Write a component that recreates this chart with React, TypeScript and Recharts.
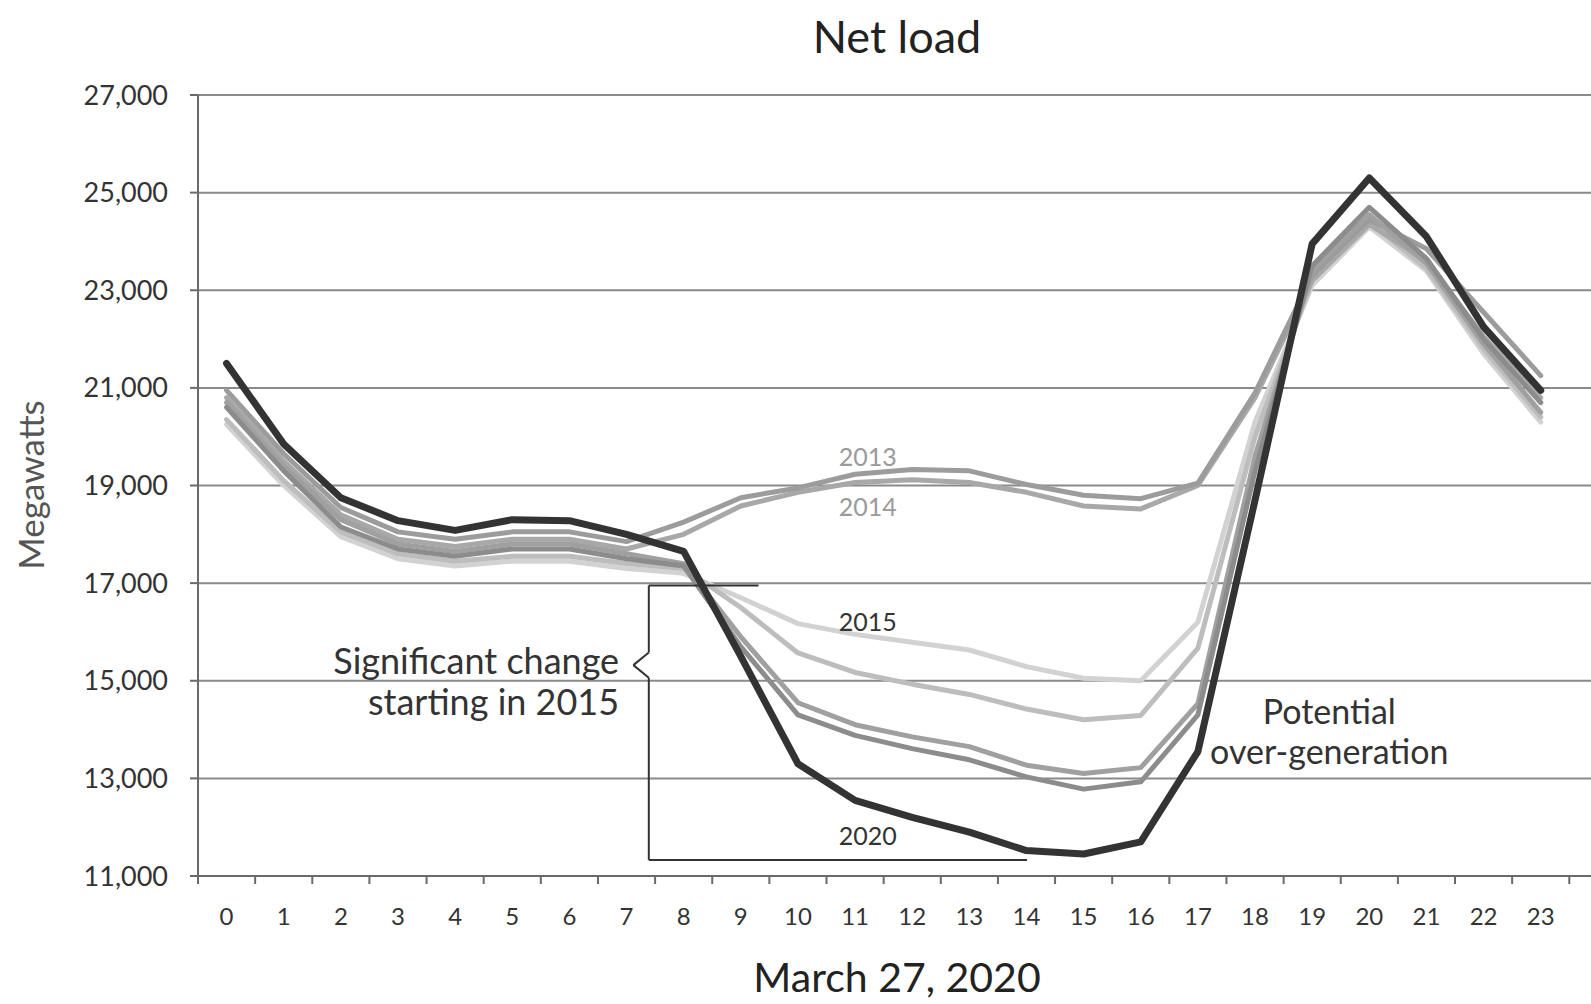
import React from "react";
import {
  CartesianGrid,
  LineChart,
  Line,
  ReferenceDot,
  ReferenceLine,
  XAxis,
  YAxis,
} from "recharts";

const HOURS = [0, 1, 2, 3, 4, 5, 6, 7, 8, 9, 10, 11, 12, 13, 14, 15, 16, 17, 18, 19, 20, 21, 22, 23];
const Y_TICKS = [11000, 13000, 15000, 17000, 19000, 21000, 23000, 25000, 27000];

// net load in MW
const NL_2013 = [20950, 19650, 18550, 18050, 17900, 18050, 18050, 17850, 18250, 18750, 18950, 19230, 19330, 19300, 19020, 18800, 18730, 19050, 20900, 23300, 24450, 23850, 22550, 21250];
const NL_2014 = [20800, 19500, 18400, 17900, 17750, 17900, 17900, 17700, 18000, 18580, 18860, 19060, 19120, 19060, 18860, 18580, 18520, 19000, 20800, 23200, 24350, 23600, 22050, 20800];
const NL_2015 = [20250, 19000, 17950, 17500, 17350, 17450, 17450, 17300, 17200, 16700, 16170, 15950, 15790, 15630, 15290, 15050, 15000, 16200, 20300, 23100, 24300, 23400, 21700, 20300];
const NL_2016 = [20350, 19100, 18050, 17600, 17450, 17550, 17550, 17400, 17300, 16500, 15570, 15170, 14930, 14720, 14420, 14200, 14290, 15670, 20000, 23200, 24400, 23450, 21800, 20400];
const NL_2017 = [20700, 19400, 18300, 17800, 17650, 17800, 17800, 17600, 17400, 15900, 14550, 14100, 13850, 13650, 13270, 13100, 13220, 14530, 19600, 23400, 24550, 23550, 21900, 20500];
const NL_2018 = [20600, 19300, 18150, 17700, 17550, 17700, 17700, 17500, 17350, 15700, 14300, 13880, 13610, 13380, 13030, 12780, 12930, 14300, 19300, 23500, 24700, 23650, 22000, 20700];
const NL_2020 = [21500, 19850, 18750, 18280, 18080, 18300, 18280, 18000, 17650, 15500, 13300, 12550, 12200, 11900, 11520, 11450, 11700, 13550, 18700, 23950, 25300, 24100, 22250, 20950];

const SERIES = [
  { key: "y2015", values: NL_2015, color: "#d2d2d2", width: 5 },
  { key: "y2016", values: NL_2016, color: "#bdbdbd", width: 5 },
  { key: "y2014", values: NL_2014, color: "#a8a8a8", width: 5 },
  { key: "y2013", values: NL_2013, color: "#9c9c9c", width: 5 },
  { key: "y2017", values: NL_2017, color: "#a0a0a0", width: 5 },
  { key: "y2018", values: NL_2018, color: "#8c8c8c", width: 5 },
  { key: "y2020", values: NL_2020, color: "#333333", width: 7 },
];

// bracket around the "significant change" area, in hour / MW
const BRACKET = [
  { hour: 9.31, mw: 16950 },
  { hour: 7.39, mw: 16950 },
  { hour: 7.39, mw: 15580 },
  { hour: 7.12, mw: 15320 },
  { hour: 7.39, mw: 15060 },
  { hour: 7.39, mw: 11330 },
  { hour: 14.01, mw: 11330 },
];

const NOTES = [
  { hour: 11.22, mw: 19600, text: "2013", color: "#9a9a9a", size: 25, anchor: "middle" },
  { hour: 11.22, mw: 18580, text: "2014", color: "#9a9a9a", size: 25, anchor: "middle" },
  { hour: 11.22, mw: 16230, text: "2015", color: "#333", size: 25, anchor: "middle" },
  { hour: 11.22, mw: 11850, text: "2020", color: "#333", size: 25, anchor: "middle" },
  { hour: 6.87, mw: 15420, text: "Significant change", color: "#333", size: 36, anchor: "end" },
  { hour: 6.87, mw: 14580, text: "starting in 2015", color: "#333", size: 36, anchor: "end" },
  { hour: 19.3, mw: 14400, text: "Potential", color: "#333", size: 34, anchor: "middle" },
  { hour: 19.3, mw: 13580, text: "over-generation", color: "#333", size: 34, anchor: "middle" },
];

const data = HOURS.map((h, i) => {
  const row: Record<string, number> = { hour: h };
  SERIES.forEach((s) => (row[s.key] = s.values[i]));
  return row;
});

const W = 1591;
const H = 1004;
const MARGIN = { top: 95, right: 0, bottom: 68, left: 0 };
const Y_AXIS_W = 198;
const X_DOMAIN: [number, number] = [-0.5, 23.88];
const PLOT_W = W - MARGIN.left - MARGIN.right - Y_AXIS_W;
const HALF_STEP = PLOT_W / (X_DOMAIN[1] - X_DOMAIN[0]) / 2;
const FONT = "Lato, 'Open Sans', sans-serif";
const AXIS = "#6a6a6a";

function HourTick(props: any) {
  const { x, y, payload, index } = props;
  const last = index === HOURS.length - 1;
  return (
    <g>
      <line x1={x - HALF_STEP} x2={x - HALF_STEP} y1={y} y2={y + 8} stroke={AXIS} strokeWidth={2} />
      {last && <line x1={x + HALF_STEP} x2={x + HALF_STEP} y1={y} y2={y + 8} stroke={AXIS} strokeWidth={2} />}
      <text x={x} y={y + 49} textAnchor="middle" fontSize={24} fill="#333" fontFamily={FONT}>
        {payload.value}
      </text>
    </g>
  );
}

const centered = (left: number, top: number): React.CSSProperties => ({
  position: "absolute",
  left,
  top,
  transform: "translate(-50%, -50%)",
  whiteSpace: "nowrap",
  lineHeight: 1.1,
});

export default function App() {
  return (
    <div style={{ position: "absolute", left: 0, top: 0, width: W, height: H, background: "#fff", fontFamily: FONT, overflow: "hidden" }}>
      <div style={{ ...centered(897, 37), fontSize: 45, color: "#222" }}>Net load</div>
      <div style={{ ...centered(897, 977), fontSize: 41, color: "#222" }}>March 27, 2020</div>
      <div style={{ ...centered(30, 485), transform: "translate(-50%, -50%) rotate(-90deg)", fontSize: 35, color: "#555" }}>
        Megawatts
      </div>
      <LineChart width={W} height={H} data={data} margin={MARGIN} style={{ position: "absolute", left: 0, top: 0 }}>
        <CartesianGrid vertical={false} stroke="#8a8a8a" strokeWidth={2} />
        <XAxis
          type="number"
          dataKey="hour"
          domain={X_DOMAIN}
          ticks={HOURS}
          interval={0}
          height={60}
          tickSize={0}
          tickMargin={0}
          tickLine={false}
          tick={<HourTick />}
          axisLine={{ stroke: AXIS, strokeWidth: 2 }}
          allowDataOverflow
        />
        <YAxis
          type="number"
          domain={[11000, 27000]}
          ticks={Y_TICKS}
          interval={0}
          width={Y_AXIS_W}
          tickSize={8}
          tickMargin={22}
          tickFormatter={(v: number) => v.toLocaleString("en-US")}
          tick={{ fontSize: 27, fill: "#333", fontFamily: FONT }}
          tickLine={{ stroke: AXIS, strokeWidth: 2 }}
          axisLine={{ stroke: AXIS, strokeWidth: 2 }}
        />
        {SERIES.map((s) => (
          <Line
            key={s.key}
            type="linear"
            dataKey={s.key}
            stroke={s.color}
            strokeWidth={s.width}
            strokeLinejoin="round"
            strokeLinecap="round"
            dot={false}
            activeDot={false}
            isAnimationActive={false}
          />
        ))}
        {BRACKET.slice(1).map((p, i) => (
          <ReferenceLine
            key={`br${i}`}
            segment={[
              { x: BRACKET[i].hour, y: BRACKET[i].mw },
              { x: p.hour, y: p.mw },
            ]}
            stroke="#333"
            strokeWidth={2}
            ifOverflow="visible"
          />
        ))}
        {NOTES.map((n) => (
          <ReferenceDot
            key={n.text}
            x={n.hour}
            y={n.mw}
            r={1}
            ifOverflow="visible"
            shape={(p: any) => (
              <text
                x={p.cx}
                y={p.cy}
                textAnchor={n.anchor}
                dominantBaseline="central"
                fontSize={n.size}
                fill={n.color}
                fontFamily={FONT}
              >
                {n.text}
              </text>
            )}
          />
        ))}
      </LineChart>
    </div>
  );
}
